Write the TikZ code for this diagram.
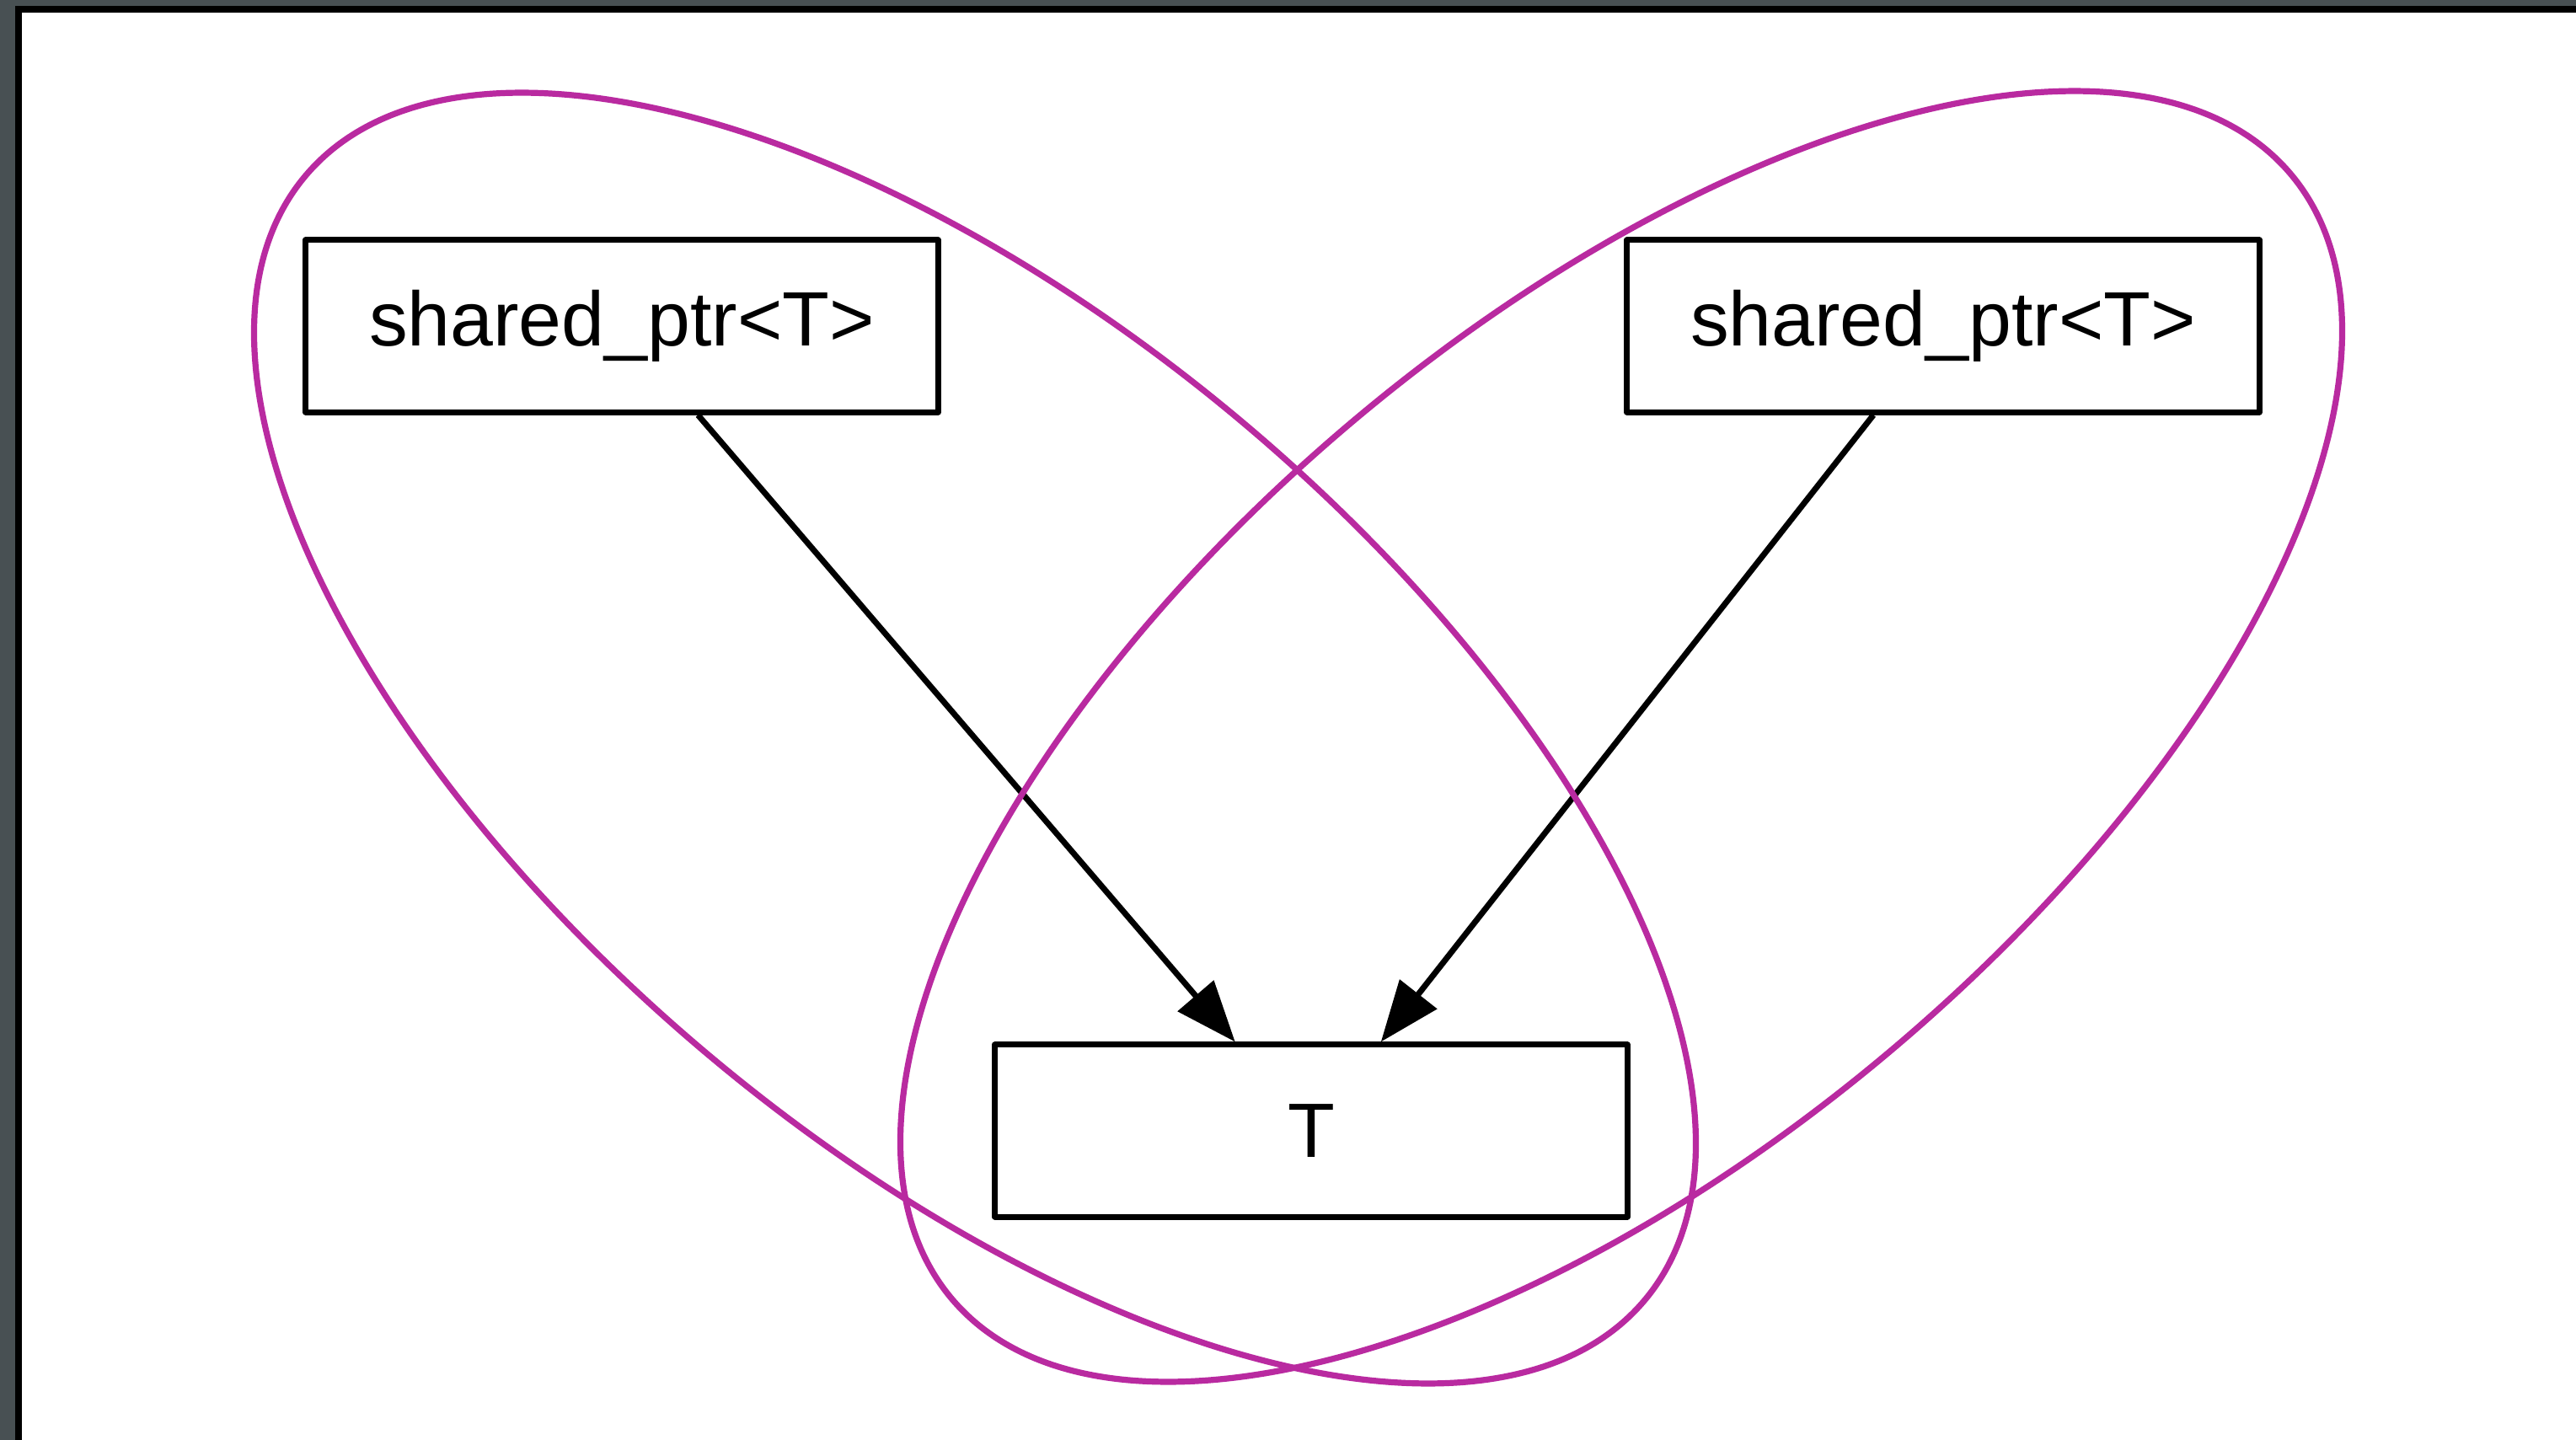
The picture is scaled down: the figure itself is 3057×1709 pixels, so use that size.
\documentclass[tikz,border=0pt]{standalone}
\usepackage{fontspec}
\setmainfont{Liberation Sans}
\usetikzlibrary{arrows.meta}

\definecolor{hullpurple}{RGB}{185,42,160}
\definecolor{framegrey}{RGB}{72,80,83}

\tikzset{
  ptrbox/.style={draw, line width=0.07cm, line join=round, minimum width=7.5cm,
    minimum height=2.04cm, inner sep=0pt, font=\fontsize{26}{31}\selectfont},
  owns/.style={line width=0.07cm, -{Triangle[length=0.72cm, width=0.55cm]}},
  hull/.style={hullpurple, line width=0.072cm},
}

\begin{document}
\begin{tikzpicture}[x=0.01cm, y=-0.01cm]
    \useasboundingbox (0,0) rectangle (3057,1709);

    % window frame
    \fill[framegrey] (0,0) rectangle (3057,1709);
    \fill[white] (22,11) rectangle (3057,1709);
    \draw[line width=0.07cm] (22,1709) -- (22,11) -- (3057,11);

    % nodes
    \node[ptrbox] (ptrA) at (738,387) {shared\_ptr<T>};
    \node[ptrbox] (ptrB) at (2306,387) {shared\_ptr<T>};
    \node[ptrbox] (obj) at (1556,1342) {T};

    % edges
    \draw[owns] (ptrA) -- (obj);
    \draw[owns] (ptrB) -- (obj);

    % groups
    \coordinate (gA) at (1157,876);
    \coordinate (gB) at (1924,874);
    \draw[hull, rotate around={-40:(gA)}] (gA) ellipse [x radius=10.37cm, y radius=4.91cm];
    \draw[hull, rotate around={40:(gB)}] (gB) ellipse [x radius=10.37cm, y radius=4.91cm];
\end{tikzpicture}
\end{document}
